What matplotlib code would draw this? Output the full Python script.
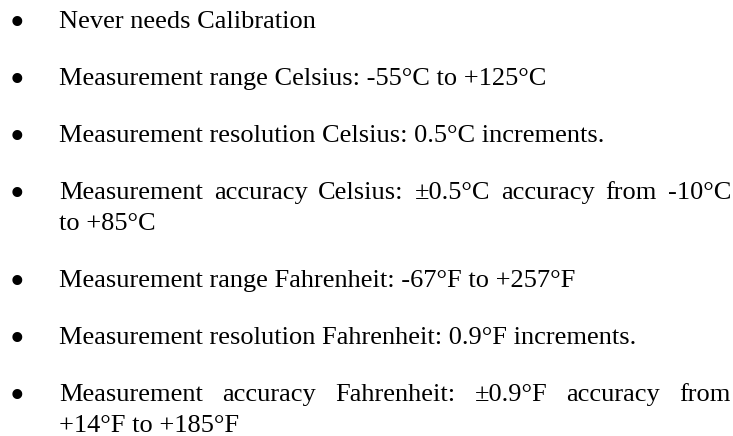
import matplotlib
matplotlib.use("Agg")
import matplotlib.pyplot as plt

# Bullet items; each item is a list of its lines (first lines of wrapped items are justified)
items = [
    ["Never needs Calibration"],
    ["Measurement range Celsius: -55°C to +125°C"],
    ["Measurement resolution Celsius: 0.5°C increments."],
    ["Measurement accuracy Celsius: ±0.5°C accuracy from -10°C", "to +85°C"],
    ["Measurement range Fahrenheit: -67°F to +257°F"],
    ["Measurement resolution Fahrenheit: 0.9°F increments."],
    ["Measurement accuracy Fahrenheit: ±0.9°F accuracy from", "+14°F to +185°F"],
]

W, H = 733, 436
FONT = "Liberation Serif"
SIZE = 19
BULLET_SIZE = 30
BULLET_X = 17
BULLET_DROP = 7
TEXT_X = 59
RIGHT_X = 731
FIRST_BASELINE = 28
ITEM_GAP = 57
WRAP_GAP = 31

fig = plt.figure(figsize=(W / 100, H / 100), dpi=100)
ax = fig.add_axes([0, 0, 1, 1])
ax.set_xlim(0, W)
ax.set_ylim(H, 0)
ax.axis("off")
renderer = fig.canvas.get_renderer()


def draw_justified(line, x0, x1, y):
    # spread words so the line fills x0..x1, like a justified paragraph
    words = line.split(" ")
    texts = [ax.text(0, y, w, family=FONT, fontsize=SIZE, va="baseline") for w in words]
    widths = [t.get_window_extent(renderer).width for t in texts]
    gap = (x1 - x0 - sum(widths)) / (len(words) - 1)
    x = x0
    for t, w in zip(texts, widths):
        t.set_x(x)
        x += w + gap


y = FIRST_BASELINE
for item in items:
    ax.text(BULLET_X, y + BULLET_DROP, "•", family=FONT, fontsize=BULLET_SIZE,
            ha="center", va="baseline")
    for i, line in enumerate(item):
        if i < len(item) - 1:
            draw_justified(line, TEXT_X, RIGHT_X, y)
            y += WRAP_GAP
        else:
            ax.text(TEXT_X, y, line, family=FONT, fontsize=SIZE, va="baseline")
    y += ITEM_GAP

fig.savefig("out.png", dpi=100)
